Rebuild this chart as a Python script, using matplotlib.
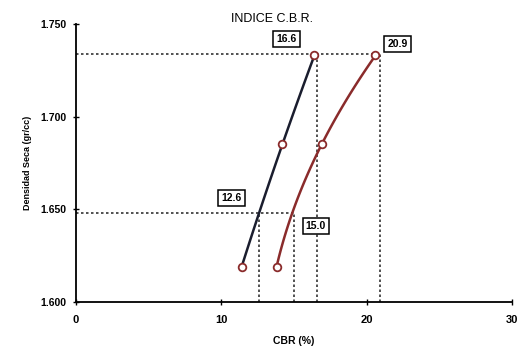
import numpy as np
import matplotlib
matplotlib.use("Agg")
import matplotlib.pyplot as plt

plt.rcParams['font.family'] = ['Liberation Sans', 'DejaVu Sans']

# CBR (%) vs dry density, two curves
cbr_black = [11.4, 14.2, 16.4]
dens_black = [1.619, 1.685, 1.733]
cbr_red = [13.8, 16.9, 20.6]
dens_red = [1.619, 1.685, 1.733]

# read-off values shown in boxes
dens_max = 1.734
dens_95 = 1.648
cbr_max_black = 16.6
cbr_max_red = 20.9
cbr_95_black = 12.6
cbr_95_red = 15.0

xticks = [0, 10, 20, 30]
yticks = [1.600, 1.650, 1.700, 1.750]

fig = plt.figure(figsize=(5.19, 3.52), dpi=100)
ax = fig.add_axes([0.146, 0.142, 0.841, 0.79])

# smooth curves through the points
def smooth(x, y, color):
    c = np.polyfit(y, x, 2)
    yy = np.linspace(min(y), max(y), 50)
    ax.plot(np.polyval(c, yy), yy, color=color, lw=1.8, zorder=3)
    ax.plot(x, y, 'o', mfc='white', mec='#8a2b2b', mew=1.3, ms=5.5, zorder=4)

smooth(cbr_black, dens_black, '#1a1d2e')
smooth(cbr_red, dens_red, '#8a2b2b')

dot = dict(color='#333333', lw=1.2, ls=(0, (1.5, 1.5)), zorder=2)
# horizontal guides
ax.plot([0, cbr_max_red], [dens_max, dens_max], **dot)
ax.plot([0, cbr_95_red], [dens_95, dens_95], **dot)
# vertical guides
for xv, yv in [(cbr_95_black, dens_95), (cbr_95_red, dens_95),
               (cbr_max_black, dens_max), (cbr_max_red, dens_max)]:
    ax.plot([xv, xv], [1.600, yv], **dot)

box = dict(boxstyle='square,pad=0.3', fc='white', ec='black', lw=1.1)
for txt, xx, yy in [(f"{cbr_max_black:.1f}", 14.5, 1.742),
                    (f"{cbr_max_red:.1f}", 22.1, 1.739),
                    (f"{cbr_95_black:.1f}", 10.7, 1.656),
                    (f"{cbr_95_red:.1f}", 16.5, 1.641)]:
    ax.text(xx, yy, txt, fontsize=7.5, fontweight='bold', ha='center', va='center', bbox=box)

ax.set_xlim(0, 30)
ax.set_ylim(1.600, 1.750)
ax.set_xticks(xticks)
ax.set_yticks(yticks)
ax.set_yticklabels([f"{v:.3f}" for v in yticks])
ax.tick_params(axis='x', labelsize=8, direction='inout', length=4, width=1, pad=7)
ax.tick_params(axis='y', labelsize=7.5, direction='inout', length=4, width=1, pad=5)
for lbl in ax.get_xticklabels() + ax.get_yticklabels():
    lbl.set_fontweight('bold')
ax.spines['top'].set_visible(False)
ax.spines['right'].set_visible(False)
ax.spines['left'].set_linewidth(1.3)
ax.spines['bottom'].set_linewidth(1.3)

ax.set_xlabel("CBR (%)", fontsize=7.5, fontweight='bold', labelpad=8)
ax.set_ylabel("Densidad Seca (gr/cc)", fontsize=6.5, fontweight='bold', labelpad=6)
fig.text(0.525, 0.945, "INDICE C.B.R.", fontsize=9, ha='center', va='center')

fig.savefig("out.png", dpi=100)
